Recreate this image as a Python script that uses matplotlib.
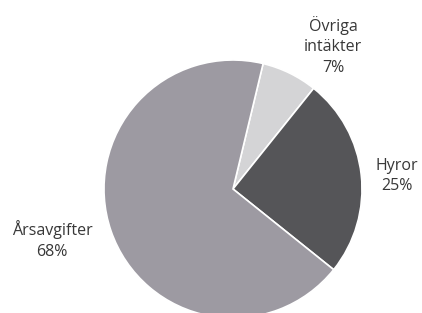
#!/usr/bin/env python3

import matplotlib.pyplot as plt

# shares of income, clockwise from the top
labels = ["Övriga\nintäkter", "Hyror", "Årsavgifter"]
shares = [7, 25, 68]

GREY = (157/255, 154/255, 162/255)
DARK = (85/255, 85/255, 88/255)
LIGHT = (212/255, 212/255, 214/255)
colors = [LIGHT, DARK, GREY]

W, H = 422, 313
fig = plt.figure(figsize=(W/100, H/100), dpi=100)
ax = fig.add_axes([0, 0, 1, 1])

# pixel-like coordinates, y up
cx, cy, r = 233, H - 189, 129
ax.pie(shares, colors=colors, startangle=76.5, counterclock=False,
       center=(cx, cy), radius=r,
       wedgeprops=dict(edgecolor='white', linewidth=1.2))

# label positions (pixels from top-left)
label_pos = [(333, 46), (397, 176), (52, 240)]
for lab, val, (px, py) in zip(labels, shares, label_pos):
    ax.text(px, H - py, "{}\n{}%".format(lab, val), ha='center', va='center',
            fontsize=11.5, family='Open Sans', color=(0.22, 0.22, 0.22),
            linespacing=1.4)

ax.set_xlim(0, W)
ax.set_ylim(0, H)
ax.set_aspect('equal')
ax.axis('off')

fig.savefig("out.png", dpi=100)
